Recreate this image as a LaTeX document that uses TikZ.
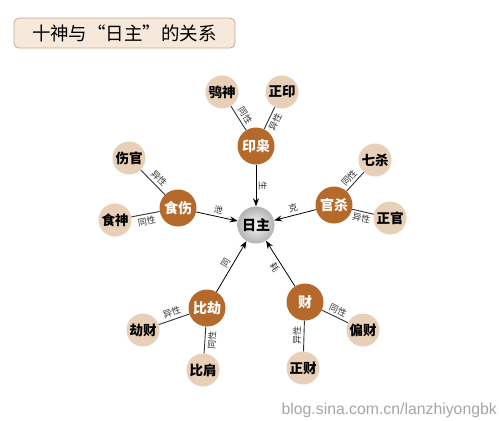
\documentclass[tikz,border=0pt]{standalone}
\usepackage{fontspec}
\setmainfont{Liberation Sans}
\newfontfamily\cjk{Noto Sans CJK SC}
\usetikzlibrary{arrows.meta,shadings}
\definecolor{brownc}{HTML}{B5692B}
\definecolor{peach}{HTML}{E8D0B8}
\definecolor{titlefill}{HTML}{F6E9DC}
\definecolor{titleline}{HTML}{C9A585}
\definecolor{linec}{HTML}{333333}
\tikzset{
  mainc/.style={circle, fill=brownc, minimum size=37pt, inner sep=0pt, text=white, font=\cjk\bfseries\fontsize{14}{14}\selectfont},
  subc/.style={circle, fill=peach, minimum size=33pt, inner sep=0pt, text=black, font=\cjk\bfseries\fontsize{13.5}{14}\selectfont},
  centerc/.style={circle, shading=radial, inner color=gray!8, outer color=gray!60, minimum size=37pt, inner sep=0pt, text=black, font=\cjk\bfseries\fontsize{14}{14}\selectfont},
  rel/.style={draw=linec, line width=0.9pt},
  arr/.style={draw=black, line width=0.8pt, -{Stealth[length=8pt,width=6pt]}},
  lab/.style={font=\cjk\fontsize{9}{9}\selectfont, text=black!80, sloped, inner sep=2.5pt},
}
\begin{document}
\begin{tikzpicture}[x=1pt,y=-1pt]
\useasboundingbox (0,0) rectangle (499,421);
\fill[white] (0,0) rectangle (499,421);
% title
\node[draw=titleline, fill=titlefill, rounded corners=5pt, line width=0.8pt, minimum width=221pt, minimum height=30pt, font=\cjk\fontsize{18.5}{18.5}\selectfont] (title) at (124.5,33) {十神与“日主”的关系};
% center
\node[centerc] (rz) at (256,225) {日主};
% main nodes
\node[mainc] (yx) at (256,146) {印枭};
\node[mainc] (ss) at (178,208) {食伤};
\node[mainc] (gs) at (334,205) {官杀};
\node[mainc] (bj) at (207,308) {比劫};
\node[mainc] (cai) at (305,302) {财};
% sub nodes
\node[subc] (xs) at (222,92) {鸮神};
\node[subc] (zy) at (282,92) {正印};
\node[subc] (sg) at (129,158) {伤官};
\node[subc] (sshen) at (115,220) {食神};
\node[subc] (qs) at (375,160) {七杀};
\node[subc] (zg) at (390,218) {正官};
\node[subc] (jc) at (143,330) {劫财};
\node[subc] (bjian) at (203,370) {比肩};
\node[subc] (pc) at (363,330) {偏财};
\node[subc] (zc) at (303,368) {正财};
% relation lines
\draw[rel] (xs) -- node[lab, above, pos=0.55] {同性} (yx);
\draw[rel] (zy) -- node[lab, below, pos=0.55] {异性} (yx);
\draw[rel] (sg) -- node[lab, above, pos=0.55] {异性} (ss);
\draw[rel] (sshen) -- node[lab, below] {同性} (ss);
\draw[rel] (qs) -- node[lab, above, pos=0.55] {同性} (gs);
\draw[rel] (zg) -- node[lab, below] {异性} (gs);
\draw[rel] (jc) -- node[lab, above] {异性} (bj);
\draw[rel] (bjian) -- node[lab, below] {同性} (bj);
\draw[rel] (pc) -- node[lab, above] {同性} (cai);
\draw[rel] (zc) -- node[lab, above] {异性} (cai);
% arrows to center
\draw[arr] (yx) -- node[lab, above] {生} (rz);
\draw[arr] (ss) -- node[lab, above] {泄} (rz);
\draw[arr] (gs) -- node[lab, above] {克} (rz);
\draw[arr] (cai) -- node[lab, below] {耗} (rz);
\draw[arr] (bj) -- node[lab, above] {同} (rz);
% watermark
\node[font=\fontsize{15.8}{16}\selectfont, text=gray!70, anchor=east, inner sep=0pt] (wm) at (497,410) {blog.sina.com.cn/lanzhiyongbk};
\end{tikzpicture}
\end{document}
